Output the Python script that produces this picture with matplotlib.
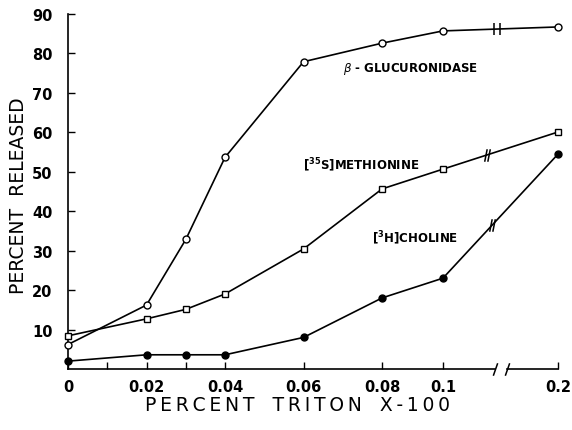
"""
Triton X-100 release curves: percent released vs detergent concentration.
"""
import numpy as np
import matplotlib
matplotlib.use("Agg")
import matplotlib.pyplot as plt
from matplotlib.path import Path
from matplotlib.markers import MarkerStyle

# ------------------------------------------------------------------------------
# Data
# ------------------------------------------------------------------------------
triton = [0, 0.02, 0.03, 0.04, 0.06, 0.08, 0.1, 0.2]
glucuronidase = [6.2, 16.2, 32.8, 53.6, 77.8, 82.5, 85.6, 86.6]
methionine = [8.4, 12.7, 15.1, 19.0, 30.4, 45.6, 50.6, 60.0]
choline = [2.0, 3.6, 3.6, 3.6, 8.0, 18.0, 23.0, 54.4]

xticks_major = [0, 0.02, 0.04, 0.06, 0.08, 0.1, 0.2]
xtick_labels = ["0", "0.02", "0.04", "0.06", "0.08", "0.1", "0.2"]
xticks_minor = [0.01, 0.03]
yticks = [10, 20, 30, 40, 50, 60, 70, 80, 90]

# where the curves / axis are broken between 0.1 and 0.2
line_breaks = {"gluc": 0.147, "meth": 0.138, "chol": 0.143}
axis_break = (0.145, 0.156)

# compressed x-axis: linear up to 0.08, squeezed beyond
XK = [0, 0.08, 0.1, 0.2]
PK = [0, 0.08, 0.0955, 0.1248]


def fwd(x):
    return np.interp(x, XK, PK)


def inv(p):
    return np.interp(p, PK, XK)


FONT = "DejaVu Sans"
LW = 1.2

fig = plt.figure(figsize=(5.72, 4.31), dpi=100)
ax = fig.add_axes([0.1189, 0.1415, 0.8566, 0.8248])
ax.set_xscale("function", functions=(fwd, inv))
ax.set_xlim(0, 0.2)
ax.set_ylim(0, 90)

common = dict(color="black", linewidth=LW, clip_on=False, zorder=3)
ax.plot(triton, glucuronidase, marker="o", markersize=5, markerfacecolor="white",
        markeredgecolor="black", markeredgewidth=1.0, **common)
ax.plot(triton, methionine, marker="s", markersize=4.6, markerfacecolor="white",
        markeredgecolor="black", markeredgewidth=1.0, **common)
ax.plot(triton, choline, marker="o", markersize=5, markerfacecolor="black",
        markeredgecolor="black", **common)

# little break marks drawn on each curve
slash = Path([(-0.45, -1), (-0.05, 1), (0.05, -1), (0.45, 1)],
             [Path.MOVETO, Path.LINETO, Path.MOVETO, Path.LINETO])
bars = Path([(-0.45, -1), (-0.45, 1), (0.45, -1), (0.45, 1)],
            [Path.MOVETO, Path.LINETO, Path.MOVETO, Path.LINETO])
for key, series, mk in (("gluc", glucuronidase, bars),
                        ("meth", methionine, slash),
                        ("chol", choline, slash)):
    xb = line_breaks[key]
    yb = np.interp(xb, triton, series)
    ax.plot([xb], [yb], marker=MarkerStyle(mk), markersize=9, color="black",
            markeredgewidth=1.1, linestyle="none", zorder=4)

# axes styling
for side in ("top", "right", "bottom"):
    ax.spines[side].set_visible(False)
ax.spines["left"].set_linewidth(LW)

# broken bottom axis
xt = ax.get_xaxis_transform()
ax.plot([0, axis_break[0]], [0, 0], color="black", lw=LW, transform=xt, clip_on=False)
ax.plot([axis_break[1], 0.2], [0, 0], color="black", lw=LW, transform=xt, clip_on=False)
for xb in axis_break:
    ax.plot([xb], [0], marker=MarkerStyle(Path([(-0.35, -1), (0.35, 1)])), markersize=9,
            color="black", markeredgewidth=1.1, transform=xt, clip_on=False)

ax.set_xticks(xticks_major)
ax.set_xticklabels(xtick_labels)
ax.set_xticks(xticks_minor, minor=True)
ax.set_yticks(yticks)
ax.tick_params(axis="both", which="both", direction="in", length=5, width=1.0)
ax.tick_params(axis="x", pad=7, labelsize=10.5)
ax.tick_params(axis="y", pad=11, labelsize=10.5)
for lab in ax.get_xticklabels() + ax.get_yticklabels():
    lab.set_fontweight("bold")
    lab.set_family(FONT)

# slightly letter-spaced axis titles (thin spaces between letters)
xl_text = "\u2009".join("PERCENT") + "   " + "\u2009".join("TRITON") + "   " + "\u2009".join("X-100")
xl = ax.set_xlabel(xl_text, fontsize=13.5, family=FONT)
xl.set_va("center")
ax.xaxis.set_label_coords(0.469, -0.0985)
yl = ax.set_ylabel("PERCENT  RELEASED", fontsize=13.5, family=FONT)
yl.set_va("center")
ax.yaxis.set_label_coords(-0.102, 0.49)

# curve labels
txt = dict(fontsize=8.5, fontweight="bold", family=FONT, color="black")
ax.text(0.0895, 76.3, r"$\beta$ - GLUCURONIDASE", ha="center", va="center", **txt)
ax.text(0.0598, 51.8, r"[$^{\mathbf{35}}$S]METHIONINE", ha="left", va="center", **txt)
ax.text(0.0775, 33.3, r"[$^{\mathbf{3}}$H]CHOLINE", ha="left", va="center", **txt)

fig.savefig("out.png", dpi=100, facecolor="white")
